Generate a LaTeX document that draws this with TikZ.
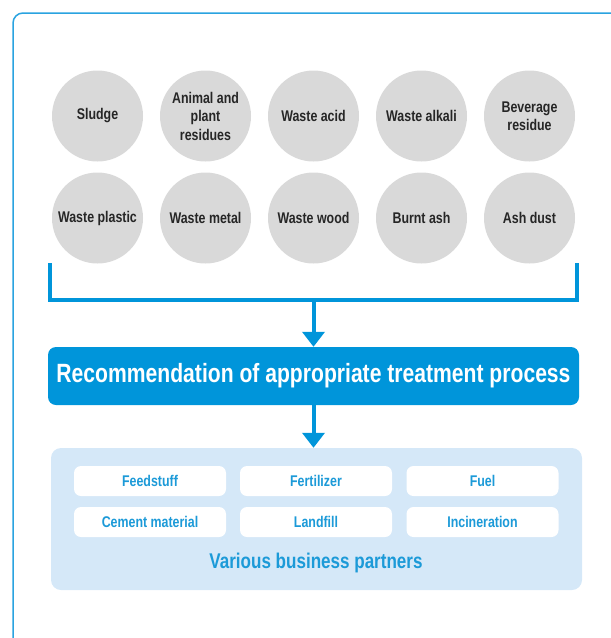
\documentclass[tikz,border=0pt]{standalone}
\usepackage{fontspec}
\setmainfont{Liberation Sans}[FakeStretch=0.8]
\usetikzlibrary{arrows.meta}
\definecolor{mblue}{HTML}{0095DA}
\definecolor{fblue}{HTML}{2AA3E0}
\definecolor{lblue}{HTML}{D5E8F8}
\definecolor{cgray}{HTML}{D9D9D9}
\definecolor{ctext}{HTML}{262626}
\definecolor{tblue}{HTML}{1C9AD8}
\begin{document}
\begin{tikzpicture}[x=1pt,y=-1pt,
  waste/.style={circle,fill=cgray,minimum size=91pt,inner sep=0pt,align=center,
    font=\bfseries\fontsize{15.5}{18.5}\selectfont,text=ctext},
  opt/.style={rectangle,rounded corners=7pt,fill=white,minimum width=152pt,
    minimum height=30pt,inner sep=0pt,font=\bfseries\fontsize{15.5}{17}\selectfont,text=tblue},
  flow/.style={mblue,line width=4pt,-{Triangle[width=22pt,length=15pt]}},
  bracketline/.style={mblue,line width=4pt,line join=miter},
  frameline/.style={fblue,line width=1.5pt,rounded corners=10pt}
  ]
\useasboundingbox (0,0) rectangle (611,638);
\draw[frameline] (13,640) -- (13,13) -- (614,13);

% waste circles
\node[waste] (sludge)   at (97.5,116)  {Sludge};
\node[waste] (animal)   at (205.5,116) {Animal and\\plant\\residues};
\node[waste] (acid)     at (313.5,116) {Waste acid};
\node[waste] (alkali)   at (421.5,116) {Waste alkali};
\node[waste] (beverage) at (529.5,116) {Beverage\\residue};
\node[waste] (plastic)  at (97.5,218)  {Waste plastic};
\node[waste] (metal)    at (205.5,218) {Waste metal};
\node[waste] (wood)     at (313.5,218) {Waste wood};
\node[waste] (burnt)    at (421.5,218) {Burnt ash};
\node[waste] (dust)     at (529.5,218) {Ash dust};

% bracket
\coordinate (bl) at (50,263);
\coordinate (br) at (577,263);
\coordinate (bm) at (313.5,300);
\draw[bracketline] (bl) -- (50,300) -- (577,300) -- (br);

% recommendation
\node[rectangle,rounded corners=8pt,fill=mblue,minimum width=531pt,minimum height=58pt,
  inner sep=0pt,text=white,font=\bfseries\fontsize{26.4}{30}\selectfont] (rec) at (313.5,376)
  {Recommendation of appropriate treatment process};
\draw[flow] (bm) -- (rec.north);

% partners panel
\node[rectangle,rounded corners=10pt,fill=lblue,minimum width=531pt,minimum height=142pt,
  inner sep=0pt] (panel) at (316.5,519) {};
\draw[flow] (rec.south) -- (rec.south |- panel.north);

\node[opt] (feed)  at (150,481)   {Feedstuff};
\node[opt] (fert)  at (316,481)   {Fertilizer};
\node[opt] (fuel)  at (482.5,481) {Fuel};
\node[opt] (cem)   at (150,522)   {Cement material};
\node[opt] (land)  at (316,522)   {Landfill};
\node[opt] (inc)   at (482.5,522) {Incineration};
\node[text=tblue,font=\bfseries\fontsize{21.3}{24}\selectfont] (partners) at (316,563)
  {Various business partners};
\end{tikzpicture}
\end{document}
